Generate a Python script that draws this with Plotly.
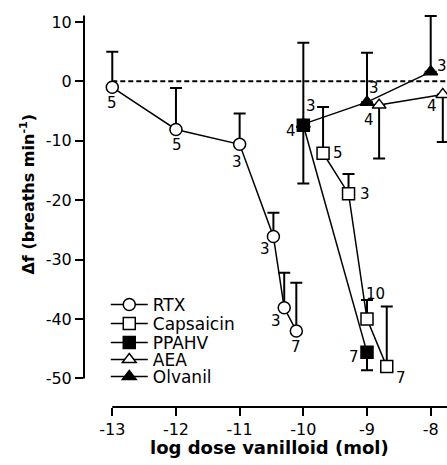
import plotly.graph_objects as go

# ---- data ----
rtx_x = [-13, -12, -11, -10.47, -10.3, -10.11]
rtx_y = [-1.0, -8.1, -10.6, -26.1, -38.1, -42.0]
rtx_err_up = [6.0, 7.0, 5.2, 4.0, 5.9, 8.1]
rtx_n = ["5", "5", "3", "3", "3", "7"]

cap_x = [-9.69, -9.29, -9.0, -8.69]
cap_y = [-12.1, -18.9, -40.0, -48.0]
cap_err_up = [7.8, 3.3, 3.2, 10.1]
cap_n = ["5", "3", "10", "7"]

ppahv_x = [-10, -9]
ppahv_y = [-7.4, -45.6]
ppahv_err_down = [9.8, 3.0]
ppahv_n = ["4", "7"]

aea_x = [-8.81, -7.81]
aea_y = [-4.0, -2.2]
aea_err_down = [9.0, 8.0]
aea_n = ["4", "4"]

olv_x = [-10, -9, -8]
olv_y = [-7.2, -3.5, 1.6]
olv_err_up = [13.7, 8.3, 9.4]
olv_n = ["3", "3", "3"]

x_ticks = [-13, -12, -11, -10, -9, -8]
x_ticktext = ["-13", "-12", "-11", "-10", "-9", "-8"]
y_ticks = [10, 0, -10, -20, -30, -40, -50]
y_ticktext = ["10", "0", "-10", "-20", "-30", "-40", "-50"]

# ---- label offsets (px) ----
rtx_off = [(0, -16), (1, -16), (-3, -18), (-8, -13), (-8, -13), (0, -16)]
cap_off = [(15, 0), (16, 0), (8, 25), (14, -11)]
ppahv_off = [(-12, -6), (-13, -5)]
aea_off = [(-10, -15), (-11, -12)]
olv_off = [(8, 18), (7, 14), (11, 6)]

FONT = "DejaVu Sans"
XR = [-13.444, -7.744]
YR = [-54.8, 11.5]

fig = go.Figure()

def add(name, x, y, symbol, fill, up=None, down=None, legend="legend"):
    err = dict(type="data", symmetric=False, color="black", thickness=2, width=6,
               array=up if up is not None else [0] * len(x),
               arrayminus=down if down is not None else [0] * len(x))
    fig.add_trace(go.Scatter(
        x=x, y=y, name=name, mode="lines+markers",
        line=dict(color="black", width=1.5),
        marker=dict(symbol=symbol, size=12, color=fill,
                    line=dict(color="black", width=1.5)),
        error_y=err, legend=legend, cliponaxis=True))

add("RTX", rtx_x, rtx_y, "circle", "white", up=rtx_err_up, legend="legend")
add("Capsaicin", cap_x, cap_y, "square", "white", up=cap_err_up, legend="legend2")
add("AEA", aea_x, aea_y, "triangle-up", "white", down=aea_err_down, legend="legend4")
add("Olvanil", olv_x, olv_y, "triangle-up", "black", up=olv_err_up, legend="legend5")
add("PPAHV", ppahv_x, ppahv_y, "square", "black", down=ppahv_err_down, legend="legend3")

anns = []
for xs, ys, ns, offs in [(rtx_x, rtx_y, rtx_n, rtx_off), (cap_x, cap_y, cap_n, cap_off),
                         (ppahv_x, ppahv_y, ppahv_n, ppahv_off), (aea_x, aea_y, aea_n, aea_off),
                         (olv_x, olv_y, olv_n, olv_off)]:
    for xv, yv, nv, (dx, dy) in zip(xs, ys, ns, offs):
        anns.append(dict(x=xv, y=yv, xref="x", yref="y", text=nv, showarrow=False,
                         xanchor="center", yanchor="middle",
                         xshift=dx, yshift=dy, font=dict(family=FONT, size=15, color="black")))

anns.append(dict(x=-0.1556, y=0.5406, xref="paper", yref="paper", textangle=-90,
                 xanchor="center", yanchor="middle",
                 text="<b>Δf (breaths min<sup>-1</sup>)</b>", showarrow=False,
                 font=dict(family=FONT, size=16, color="black")))
anns.append(dict(x=0.512, y=-0.104, xref="paper", yref="paper",
                 xanchor="center", yanchor="middle",
                 text="<b>log dose vanilloid (mol)</b>", showarrow=False,
                 font=dict(family=FONT, size=18, color="black")))

shapes = [
    dict(type="line", xref="x", yref="y", x0=-13, x1=XR[1], y0=0, y1=0,
         line=dict(color="black", width=2, dash="5px,3px"), layer="below"),
    dict(type="line", xref="paper", yref="y", x0=0, x1=0, y0=-50, y1=11.1,
         line=dict(color="black", width=2)),
    dict(type="line", xref="x", yref="paper", x0=-13, x1=XR[1], y0=0, y1=0,
         line=dict(color="black", width=2)),
]

leg_rows = [305, 324, 343, 360, 377]
plot_top, plot_bot = 13, 407
def ly(py):
    return (plot_bot - py) / (plot_bot - plot_top)

legkw = dict(x=0.06, xanchor="left", yanchor="middle", bgcolor="rgba(0,0,0,0)",
             borderwidth=0, itemwidth=37, font=dict(family=FONT, size=17, color="black"))

fig.update_layout(
    width=447, height=465,
    margin=dict(l=84, r=0, t=13, b=58),
    paper_bgcolor="white", plot_bgcolor="white",
    showlegend=True,
    legend=dict(y=ly(leg_rows[0]), **legkw),
    legend2=dict(y=ly(leg_rows[1]), **legkw),
    legend3=dict(y=ly(leg_rows[2]), **legkw),
    legend4=dict(y=ly(leg_rows[3]), **legkw),
    legend5=dict(y=ly(leg_rows[4]), **legkw),
    xaxis=dict(range=XR, tickmode="array", tickvals=x_ticks, ticktext=x_ticktext,
               ticks="outside", ticklen=8, tickwidth=2, tickcolor="black",
               showgrid=False, zeroline=False, showline=False,
               tickfont=dict(family=FONT, size=16, color="black")),
    yaxis=dict(range=YR, tickmode="array", tickvals=y_ticks, ticktext=y_ticktext,
               ticks="outside", ticklen=8, tickwidth=2, tickcolor="black",
               showgrid=False, zeroline=False, showline=False,
               tickfont=dict(family=FONT, size=16, color="black")),
    annotations=anns, shapes=shapes,
)

fig.write_html("out.html", config={"displayModeBar": False},
               post_script="document.body.style.margin='0';")
